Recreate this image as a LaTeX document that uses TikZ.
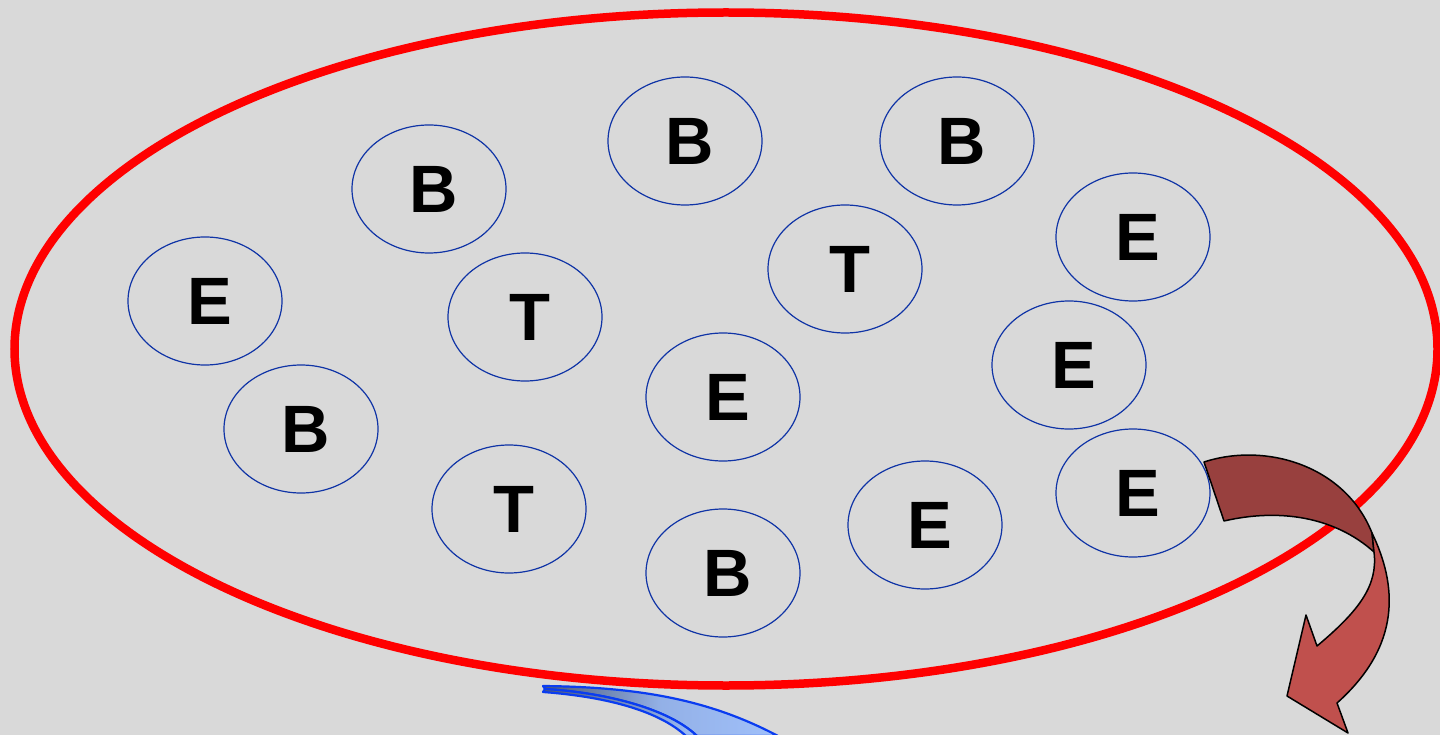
\documentclass[tikz,border=0pt]{standalone}
\usepackage{fontspec}
\setmainfont{Liberation Sans}
\usetikzlibrary{shapes.geometric}
\definecolor{bg}{HTML}{D9D9D9}
\definecolor{ringblue}{HTML}{1034A6}
\definecolor{darkred}{HTML}{98403E}
\definecolor{lightred}{HTML}{C0504D}
\definecolor{arrowblue}{HTML}{0A3CF0}
\definecolor{shadeA}{HTML}{4A5878}
\definecolor{shadeB}{HTML}{A0C0FA}
\tikzset{
  letter/.style={ellipse, draw=ringblue, line width=1.2pt, minimum width=154pt, minimum height=128pt, inner sep=0pt,
     font=\fontsize{67}{67}\selectfont\bfseries, text depth=0pt},
}
\begin{document}
\begin{tikzpicture}[x=1pt,y=-1pt]
\fill[bg] (0,0) rectangle (1440,735);
\useasboundingbox (0,0) rectangle (1440,735);
\clip (0,0) rectangle (1440,735);
% big ring
\node[ellipse, draw=red, line width=8.5pt, minimum width=1423pt, minimum height=673pt, inner sep=0pt] (ring) at (726,349) {};
% letters
\node[letter] (e1) at (205,301) {\hspace*{9pt}E};
\node[letter] (b1) at (429,189) {\hspace*{9pt}B};
\node[letter] (b2) at (685,141) {\hspace*{9pt}B};
\node[letter] (b3) at (957,141) {\hspace*{9pt}B};
\node[letter] (e2) at (1133,237) {\hspace*{9pt}E};
\node[letter] (t1) at (845,269) {\hspace*{9pt}T};
\node[letter] (t2) at (525,317) {\hspace*{9pt}T};
\node[letter] (e3) at (723,397) {\hspace*{9pt}E};
\node[letter] (e4) at (1069,365) {\hspace*{9pt}E};
\node[letter] (b4) at (301,429) {\hspace*{9pt}B};
\node[letter] (t3) at (509,509) {\hspace*{9pt}T};
\node[letter] (b5) at (723,573) {\hspace*{9pt}B};
\node[letter] (e5) at (925,525) {\hspace*{9pt}E};
\node[letter] (e6) at (1133,493) {\hspace*{9pt}E};
% red curved arrow: dark back face
\draw[fill=darkred, line width=1.5pt, line join=round]
  (1204,462) .. controls (1265,442) and (1345,465) .. (1372,533)
  -- (1374,552) .. controls (1335,517) and (1280,508) .. (1224,521) -- cycle;
% light front face with head
\draw[fill=lightred, line width=1.5pt, line join=round]
  (1372,533) .. controls (1397,585) and (1402,645) .. (1337,703)
  -- (1348,733) -- (1287,696) -- (1306,615) -- (1317,646)
  .. controls (1360,610) and (1378,585) .. (1374,552) -- cycle;
% blue curved arrow (partly off canvas)
\draw[arrowblue, line width=2.2pt, left color=shadeA, right color=shadeB, middle color=shadeB!85!shadeA, line join=round]
  (543,686) .. controls (640,687) and (710,700) .. (778,736)
  -- (697,736) .. controls (670,710) and (610,693) .. (545,689) -- cycle;
\draw[arrowblue, line width=2.2pt, left color=shadeA, right color=shadeB, line join=round]
  (545,689) .. controls (610,693) and (670,710) .. (697,736)
  -- (686,736) .. controls (660,712) and (610,697) .. (543,692) -- cycle;
\end{tikzpicture}
\end{document}
